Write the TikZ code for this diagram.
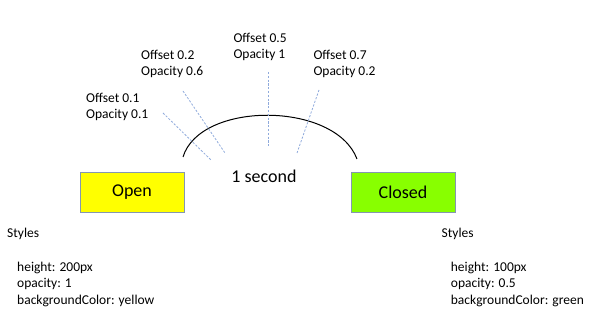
\documentclass[tikz,border=0pt]{standalone}
\usepackage{fontspec}
\setmainfont{Carlito}
\definecolor{guide}{HTML}{8FAADC}
\definecolor{boxedge}{HTML}{8497B0}
\definecolor{openfill}{HTML}{FFFF00}
\definecolor{closedfill}{HTML}{88FF00}
\begin{document}
\begin{tikzpicture}[x=1pt,y=-1pt,
  small/.style={font=\fontsize{13.5}{16.5}\selectfont, inner sep=0pt, anchor=base west, align=left},
  big/.style={font=\fontsize{18}{21}\selectfont},
  statebox/.style={draw=boxedge, line width=0.9pt, minimum width=104pt, minimum height=40pt, inner sep=0pt, font=\fontsize{18}{21}\selectfont},
  guideline/.style={draw=guide, line width=0.8pt, dash pattern=on 2.2pt off 1.6pt},
  arcline/.style={draw=black, line width=1pt}]
\useasboundingbox (0,0) rectangle (600,312);
\node[statebox, fill=openfill] (open) at (132,192) {Open};
\node[statebox, fill=closedfill] (closed) at (403,192) {Closed};
\node[big, inner sep=0pt, anchor=base] (dur) at (264,182.5) {1 second};
\coordinate (arcL) at (183,157);
\coordinate (arcR) at (357,159);
\draw[arcline] (arcL) .. controls (200,101) and (335,101) .. (arcR);
% guide lines
\coordinate (g1a) at (163,113); \coordinate (g1b) at (211,160);
\coordinate (g2a) at (183,91);  \coordinate (g2b) at (225,153);
\coordinate (g3a) at (268,72);  \coordinate (g3b) at (268,147);
\coordinate (g4a) at (319,90);  \coordinate (g4b) at (297,153);
\draw[guideline] (g1a) -- (g1b);
\draw[guideline] (g2a) -- (g2b);
\draw[guideline] (g3a) -- (g3b);
\draw[guideline] (g4a) -- (g4b);
% labels (anchored at the baseline of their last line)
\node[small] (l1) at (86,119) {Offset 0.1\\Opacity 0.1};
\node[small] (l2) at (141,76) {Offset 0.2\\Opacity 0.6};
\node[small] (l3) at (233.3,59) {Offset 0.5\\Opacity 1};
\node[small] (l4) at (313.3,76) {Offset 0.7\\Opacity 0.2};
% styles
\node[small] (sl) at (7,237.7) {Styles};
\node[small] (slb) at (17,304.5) {height: 200px\\opacity: 1\\backgroundColor: yellow};
\node[small] (sr) at (441.5,237.7) {Styles};
\node[small] (srb) at (450.7,304.5) {height: 100px\\opacity: 0.5\\backgroundColor: green};
\end{tikzpicture}
\end{document}
